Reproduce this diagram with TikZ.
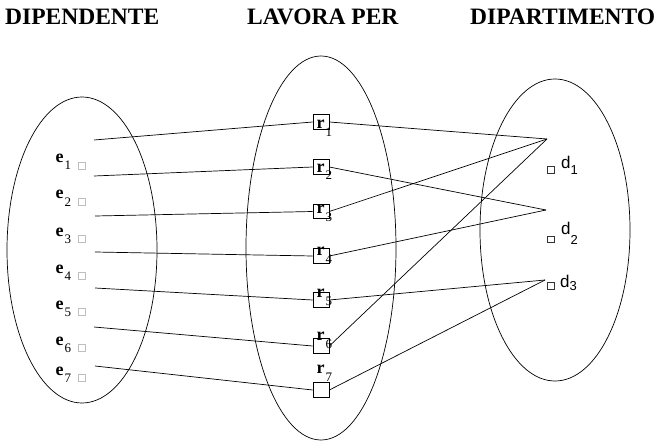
\documentclass[tikz,border=0pt]{standalone}
\usepackage{fontspec}
\setmainfont{Liberation Serif}
\newfontfamily\sansf{Liberation Sans}
\usetikzlibrary{shapes.geometric}
\newcommand\elab[1]{\fontsize{18}{18}\selectfont\bfseries e\kern1pt\raisebox{-7pt}{\fontsize{13}{13}\selectfont\mdseries #1}}
\newcommand\rlab[1]{\fontsize{18}{18}\selectfont\bfseries r\kern1pt\raisebox{-8pt}{\fontsize{13}{13}\selectfont\mdseries #1}}
\newcommand\dlab[2]{\sansf\fontsize{17}{17}\selectfont d\raisebox{-#2pt}{\fontsize{13}{13}\selectfont #1}}
\begin{document}
\begin{tikzpicture}[x=1pt,y=-1pt,
  set/.style={draw, ellipse, line width=0.7pt, inner sep=0pt},
  title/.style={font=\fontsize{23.5}{24}\selectfont\bfseries, anchor=base west, inner sep=0pt},
  rbox/.style={draw, line width=0.7pt, minimum width=16pt, minimum height=14.5pt, inner sep=0pt},
  gsq/.style={draw=black!25, line width=0.5pt, minimum size=7pt, inner sep=0pt},
  dsq/.style={draw=black!80, line width=0.5pt, minimum size=6.5pt, inner sep=0pt},
  lab/.style={anchor=base west, inner sep=0pt},
  conn/.style={line width=0.7pt}]
\useasboundingbox (0,0) rectangle (667,441);
% titles
\node[title] (t1) at (5,25) {DIPENDENTE};
\node[title] (t2) at (247,25) {LAVORA PER};
\node[title] (t3) at (470,25) {DIPARTIMENTO};
% sets
\node[set, minimum width=150pt, minimum height=306pt] (setE) at (82,250) {};
\node[set, minimum width=150pt, minimum height=384pt] (setR) at (321,248) {};
\node[set, minimum width=150pt, minimum height=302pt] (setD) at (555,230) {};
% employees
\node[gsq] (s1) at (82,165.5) {};
\node[gsq] (s2) at (82,202) {};
\node[gsq] (s3) at (82,239) {};
\node[gsq] (s4) at (82,275.5) {};
\node[gsq] (s5) at (82,312) {};
\node[gsq] (s6) at (82,348) {};
\node[gsq] (s7) at (82,377.5) {};
\node[lab] (e1) at (55.5,163) {\elab{1}};
\node[lab] (e2) at (55.5,199) {\elab{2}};
\node[lab] (e3) at (55.5,236) {\elab{3}};
\node[lab] (e4) at (55.5,273) {\elab{4}};
\node[lab] (e5) at (55.5,309) {\elab{5}};
\node[lab] (e6) at (55.5,345) {\elab{6}};
\node[lab] (e7) at (55.5,375) {\elab{7}};
% relationship boxes
\node[rbox] (r1) at (321,122) {};
\node[rbox] (r2) at (321,167) {};
\node[rbox] (r3) at (321,211.5) {};
\node[rbox] (r4) at (321,256) {};
\node[rbox] (r5) at (321,300) {};
\node[rbox] (r6) at (321,346) {};
\node[rbox] (r7) at (321,390) {};
\node[lab] (l1) at (316.5,129) {\rlab{1}};
\node[lab] (l2) at (316.5,172) {\rlab{2}};
\node[lab] (l3) at (316.5,213) {\rlab{3}};
\node[lab] (l4) at (316.5,255) {\rlab{4}};
\node[lab] (l5) at (316.5,297) {\rlab{5}};
\node[lab] (l6) at (316.5,340) {\rlab{6}};
\node[lab] (l7) at (316.5,373) {\rlab{7}};
% departments
\node[dsq] (q1) at (550.5,170) {};
\node[dsq] (q2) at (550.5,239) {};
\node[dsq] (q3) at (550.5,285.5) {};
\node[lab] (d1) at (561,168) {\dlab{1}{6}};
\node[lab] (d2) at (561,234) {\dlab{2}{10}};
\node[lab] (d3) at (560,287) {\dlab{3}{3}};
% connector ends
\coordinate (a1) at (94,140);
\coordinate (a2) at (94,176);
\coordinate (a3) at (95,216);
\coordinate (a4) at (95,252);
\coordinate (a5) at (95,288);
\coordinate (a6) at (94,327);
\coordinate (a7) at (95,366);
\coordinate (p1) at (547,139);
\coordinate (p2) at (546,210);
\coordinate (p3) at (545,280);
% connectors
\draw[conn] (a1) -- (r1.west);
\draw[conn] (a2) -- (r2.west);
\draw[conn] (a3) -- (r3.west);
\draw[conn] (a4) -- (r4.west);
\draw[conn] (a5) -- (r5.west);
\draw[conn] (a6) -- (r6.west);
\draw[conn] (a7) -- (r7.west);
\draw[conn] (r1.east) -- (p1);
\draw[conn] (r2.east) -- (p2);
\draw[conn] (r3.east) -- (p1);
\draw[conn] (r4.east) -- (p2);
\draw[conn] (r5.east) -- (p3);
\draw[conn] (r6.east) -- (p1);
\draw[conn] (r7.east) -- (p3);
\end{tikzpicture}
\end{document}
